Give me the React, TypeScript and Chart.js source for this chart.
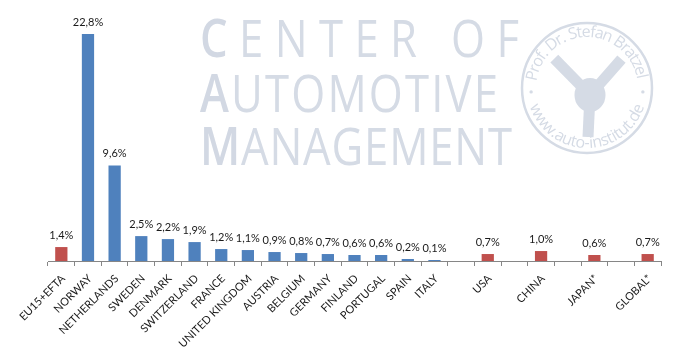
import { useEffect, useRef } from "react";
import { Chart, registerables } from "chart.js";

Chart.register(...registerables);

// ---- data ----
const categories: string[] = [
  "EU15+EFTA", "NORWAY", "NETHERLANDS", "SWEDEN", "DENMARK", "SWITZERLAND",
  "FRANCE", "UNITED KINGDOM", "AUSTRIA", "BELGIUM", "GERMANY", "FINLAND",
  "PORTUGAL", "SPAIN", "ITALY", "", "USA", "", "CHINA", "", "JAPAN*", "", "GLOBAL*",
];
const shares: (number | null)[] = [
  1.4, 22.8, 9.6, 2.5, 2.2, 1.9, 1.2, 1.1, 0.9, 0.8, 0.7, 0.6, 0.6, 0.2, 0.1,
  null, 0.7, null, 1.0, null, 0.6, null, 0.7,
];
const aggregateCategories: string[] = ["EU15+EFTA", "USA", "CHINA", "JAPAN*", "GLOBAL*"];
const watermarkLines: string[] = ["CENTER OF", "AUTOMOTIVE", "MANAGEMENT"];
const sealTop = "Prof. Dr. Stefan Bratzel";
const sealBottom = "www.auto-institut.de";

const BLUE = "#4F81BD";
const RED = "#C0504D";
const WM = "#D5DBE5";
const WM_FIRST = "#D2D8E3";

function drawSpaced(ctx: CanvasRenderingContext2D, text: string, left: number, right: number, baseline: number, sx: number) {
  const chars = text.split("");
  const fontFor = (i: number) => (i === 0 ? "600 52px 'Open Sans'" : "400 52px 'Open Sans'");
  const widths = chars.map((c, i) => {
    ctx.font = fontFor(i);
    return ctx.measureText(c).width * sx;
  });
  const total = widths.reduce((a, b) => a + b, 0);
  const gap = (right - left - total) / (chars.length - 1);
  let x = left;
  chars.forEach((c, i) => {
    ctx.save();
    ctx.font = fontFor(i);
    ctx.fillStyle = i === 0 ? WM_FIRST : WM;
    ctx.translate(x, baseline);
    ctx.scale(sx, 1);
    ctx.textBaseline = "alphabetic";
    ctx.textAlign = "left";
    ctx.fillText(c, 0, 0);
    ctx.restore();
    x += widths[i] + gap;
  });
}

function drawArcText(ctx: CanvasRenderingContext2D, text: string, cx: number, cy: number, r: number, a0: number, a1: number, top: boolean) {
  ctx.font = "16px 'Open Sans'";
  const chars = text.split("");
  const widths = chars.map((c) => ctx.measureText(c).width);
  const total = widths.reduce((a, b) => a + b, 0);
  const span = a1 - a0;
  let cum = 0;
  chars.forEach((c, i) => {
    const a = a0 + ((cum + widths[i] / 2) / total) * span;
    cum += widths[i];
    ctx.save();
    ctx.translate(cx + r * Math.cos(a), cy + r * Math.sin(a));
    ctx.rotate(top ? a + Math.PI / 2 : a - Math.PI / 2);
    ctx.textAlign = "center";
    ctx.textBaseline = "alphabetic";
    ctx.fillStyle = WM;
    ctx.fillText(c, 0, 0);
    ctx.restore();
  });
}

const watermarkPlugin = {
  id: "watermark",
  beforeDraw(chart: any) {
    const ctx: CanvasRenderingContext2D = chart.ctx;
    ctx.save();
    drawSpaced(ctx, watermarkLines[0], 200, 519, 57, 0.84);
    drawSpaced(ctx, watermarkLines[1], 200, 498, 112, 0.84);
    drawSpaced(ctx, watermarkLines[2], 200, 512, 165, 0.84);

    const cx = 587, cy = 88, R = 65;
    const d = Math.PI / 180;
    ctx.strokeStyle = WM;
    ctx.lineWidth = 2.5;
    ctx.beginPath();
    ctx.arc(cx, cy, R, 0, Math.PI * 2);
    ctx.stroke();
    drawArcText(ctx, sealTop, cx, cy, 51, 188 * d, 350 * d, true);
    drawArcText(ctx, sealBottom, cx, cy, 60, 162 * d, 18 * d, false);
    ctx.fillStyle = WM;
    [176, 4].forEach((deg) => {
      ctx.beginPath();
      ctx.arc(cx + 56 * Math.cos(deg * d), cy + 56 * Math.sin(deg * d), 1.7, 0, Math.PI * 2);
      ctx.fill();
    });
    // steering wheel
    const hx = 590, hy = 95;
    ctx.strokeStyle = WM;
    ctx.lineWidth = 11;
    ctx.lineCap = "butt";
    [[cx + 44 * Math.cos(222 * d), cy + 44 * Math.sin(222 * d)], [cx + 45 * Math.cos(320 * d), cy + 45 * Math.sin(320 * d)], [588, 137]].forEach(([x, y]) => {
      ctx.beginPath();
      ctx.moveTo(hx, hy);
      ctx.lineTo(x, y);
      ctx.stroke();
    });
    ctx.beginPath();
    ctx.ellipse(hx, hy, 15.5, 17, 0, 0, Math.PI * 2);
    ctx.fill();
    ctx.restore();
  },
};

const valueLabelPlugin = {
  id: "valueLabels",
  afterDatasetsDraw(chart: any) {
    const ctx: CanvasRenderingContext2D = chart.ctx;
    const meta = chart.getDatasetMeta(0);
    ctx.save();
    ctx.font = "11px Lato";
    ctx.fillStyle = "#1a1a1a";
    ctx.textAlign = "center";
    ctx.textBaseline = "bottom";
    meta.data.forEach((bar: any, i: number) => {
      const v = shares[i];
      if (v === null || v === undefined) return;
      const txt = v.toFixed(1).replace(".", ",") + "%";
      ctx.fillText(txt, bar.x, bar.y - 6);
    });
    ctx.restore();
  },
};

export default function App() {
  const ref = useRef<HTMLCanvasElement | null>(null);
  useEffect(() => {
    document.body.style.margin = "0";
    if (!ref.current) return;
    const chart = new Chart(ref.current, {
      type: "bar",
      data: {
        labels: categories,
        datasets: [
          {
            data: shares,
            backgroundColor: categories.map((c) => (aggregateCategories.includes(c) ? RED : BLUE)),
            barPercentage: 0.46,
            categoryPercentage: 1,
          },
        ],
      },
      options: {
        animation: false,
        responsive: true,
        maintainAspectRatio: false,
        layout: { padding: { top: 12, left: 48, right: 12, bottom: 0 } },
        plugins: { legend: { display: false }, tooltip: { enabled: false } },
        scales: {
          x: {
            offset: true,
            grid: { display: true, drawOnChartArea: false, offset: true, tickLength: 5, color: "#868686" },
            border: { display: true, color: "#868686", width: 1 },
            ticks: {
              autoSkip: false,
              maxRotation: 45,
              minRotation: 45,
              padding: 6,
              labelOffset: 2,
              color: "#1a1a1a",
              font: { family: "Lato", size: 11 },
            },
            afterFit: (scale: any) => {
              scale.height = 91;
            },
          },
          y: { display: false, min: 0, max: 25 },
        },
      },
      plugins: [watermarkPlugin, valueLabelPlugin],
    });
    return () => chart.destroy();
  }, []);
  return (
    <div style={{ width: 673, height: 352, position: "relative" }}>
      <canvas ref={ref} />
    </div>
  );
}
